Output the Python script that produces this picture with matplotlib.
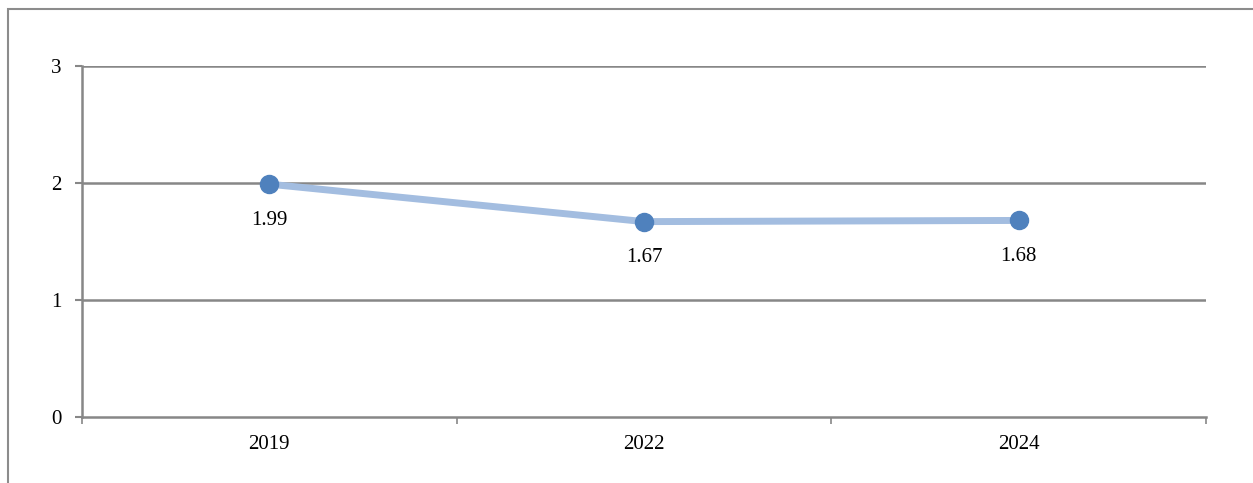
import matplotlib.pyplot as plt
from matplotlib.patches import Rectangle

years = ["2019", "2022", "2024"]
values = [1.99, 1.67, 1.68]
labels = ["1.99", "1.67", "1.68"]
y_ticks = [0, 1, 2, 3]

W, H = 1253, 483
fig = plt.figure(figsize=(W / 100, H / 100), dpi=100)
plt.rcParams['font.family'] = ['Liberation Serif', 'DejaVu Serif']

# outer chart border (runs off the right and bottom of the crop)
fig.patches.append(Rectangle((8 / W, -0.2), 1.2, 1 - 9 / H + 0.2,
                             transform=fig.transFigure, fill=False,
                             edgecolor='#8c8c8c', linewidth=1.5))

ax = fig.add_axes([82 / W, 1 - 417 / H, (1206 - 82) / W, (417 - 66) / H])
x = range(len(years))

ax.set_xlim(-0.5, 2.5)
ax.set_ylim(0, 3)
ax.set_yticks(y_ticks)
ax.set_yticklabels([str(t) for t in y_ticks], fontsize=15)
ax.set_xticks(x)
ax.set_xticklabels(years, fontsize=15)
ax.set_xticks([-0.5, 0.5, 1.5, 2.5], minor=True)

for t in y_ticks[1:]:
    ax.axhline(t, color='#878787', linewidth=1.8, zorder=1)

for s in ['top', 'right']:
    ax.spines[s].set_visible(False)
for s in ['left', 'bottom']:
    ax.spines[s].set_color('#878787')
    ax.spines[s].set_linewidth(1.8)

ax.tick_params(axis='y', which='major', length=5, width=1.5, color='#878787', pad=10)
ax.tick_params(axis='x', which='major', length=0, pad=13)
ax.tick_params(axis='x', which='minor', length=5, width=1.2, color='#878787')

ax.plot(x, values, color='#a3bde0', linewidth=5, zorder=2, solid_capstyle='round')
ax.plot(x, values, linestyle='none', marker='o', markersize=13,
        color='#4f81bd', zorder=3)

for i, v in enumerate(values):
    ax.annotate(labels[i], (i, v), xytext=(0, -26), textcoords='offset points',
                ha='center', va='center', fontsize=15)

fig.savefig('out.png', dpi=100)
